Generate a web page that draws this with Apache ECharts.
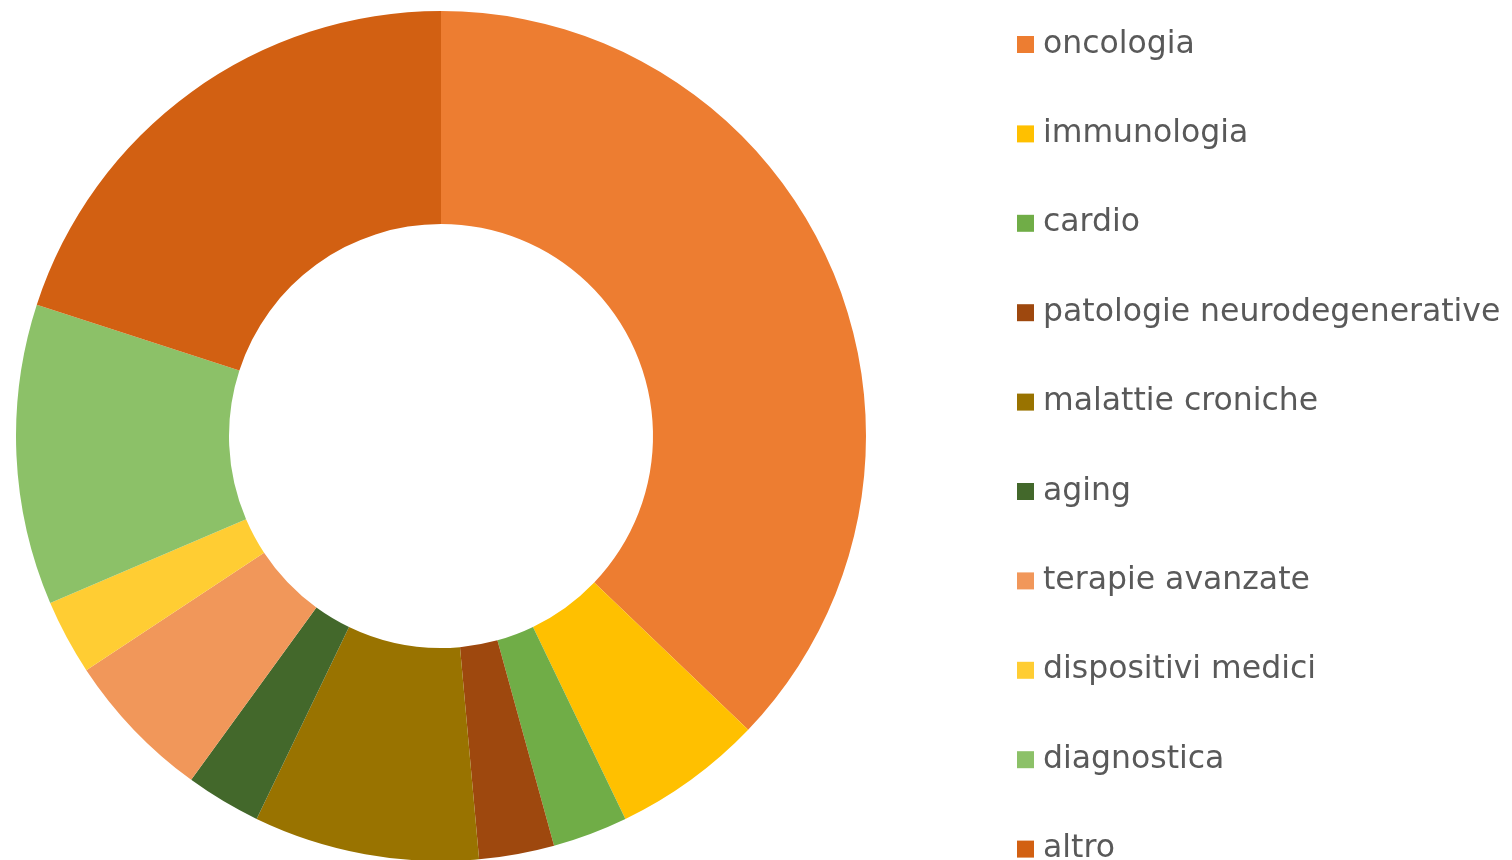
<!DOCTYPE html>
<html><head><meta charset="utf-8">
<script src="https://cdn.jsdelivr.net/npm/echarts@6/dist/echarts.min.js"></script>
<style>html,body{margin:0;padding:0;background:#fff}#c{width:1512px;height:860px}</style>
</head><body><div id="c"></div>
<script>
const categories = ['oncologia','immunologia','cardio','patologie neurodegenerative','malattie croniche','aging','terapie avanzate','dispositivi medici','diagnostica','altro'];
const values = [13,2,1,1,3,1,2,1,4,7];
const colors = ['#ED7D31','#FFC000','#70AD47','#9E480E','#997300','#43682B','#F1975A','#FFCD33','#8CC168','#D26012'];

const fontFamily = '"DejaVu Sans", sans-serif';
const fs = 31.5;

const chart = echarts.init(document.getElementById('c'));
chart.setOption({
  animation: false,
  color: colors,
  legend: {
    orient: 'vertical', left: 1017, top: 28.5, padding: 0, height: 2000,
    itemWidth: 17, itemHeight: 17, itemGap: 57.4,
    icon: 'rect',
    textStyle: {color: '#595959', fontSize: fs, fontFamily: fontFamily, padding:[0,0,0,4]},
    data: categories
  },
  series: [{
    type: 'pie', center: [441, 436], radius: [212, 425],
    startAngle: 90, clockwise: true, label: {show: false}, labelLine:{show:false},
    emphasis: {disabled: true},
    data: categories.map((n, i) => ({name: n, value: values[i]}))
  }]
});
</script></body></html>
